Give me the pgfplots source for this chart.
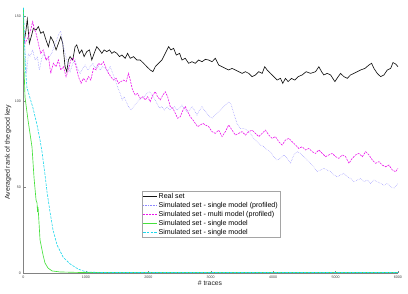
\documentclass[border=0pt]{standalone}
\usepackage{pgfplots}
\pgfplotsset{compat=1.18}
\usepackage{fontspec}
\setmainfont{Liberation Sans}

\definecolor{realset}{RGB}{20,20,20}
\definecolor{singleprof}{RGB}{140,135,255}
\definecolor{multiprof}{RGB}{235,20,235}
\definecolor{singlegreen}{RGB}{70,225,60}
\definecolor{singlecyan}{RGB}{30,215,235}
\definecolor{axisgray}{RGB}{130,130,130}
\definecolor{legframe}{RGB}{165,165,165}

\begin{document}
\begin{tikzpicture}
\path[use as bounding box] (-23.5pt,-21pt) rectangle (384.5pt,273pt);
\begin{axis}[
  scale only axis,
  width=374.5pt, height=257pt,
  anchor=origin, at={(0pt,0pt)},
  xmin=0, xmax=6000, ymin=0, ymax=150,
  axis x line=bottom, axis y line=left,
  axis line style={-, axisgray, line width=0.5pt},
  xtick={0,1000,2000,3000,4000,5000,6000},
  ytick={0,50,100,150},
  scaled x ticks=false,
  tick align=inside,
  major tick length=2.2pt,
  tick style={axisgray, line width=0.4pt},
  /pgf/number format/assume math mode=true,
  /pgf/number format/1000 sep={},
  tick label style={font=\fontsize{3.6}{4}\selectfont, text=black!75},
  xticklabel style={yshift=1pt},
  yticklabel style={xshift=1pt},
  xlabel={\# traces},
  ylabel={Averaged rank of the good key},
  every axis x label/.style={at={(axis description cs:0.498,-0.039)}, anchor=center, font=\fontsize{6.8}{7}\selectfont, text=black!85},
  every axis y label/.style={at={(axis description cs:-0.041,0.47)}, rotate=90, anchor=center, font=\fontsize{7}{8}\selectfont, text=black!85},
  clip=false,
  legend style={at={(axis description cs:0.316,0.3191)}, anchor=north west,
    draw=legframe, line width=0.4pt, fill=white,
    font=\fontsize{7.1}{8}\selectfont,
    inner xsep=0.8pt, inner ysep=0.6pt, row sep=0.2pt,
    nodes={text height=5.4pt, text depth=1.6pt, inner ysep=0.9pt, inner xsep=1.2pt}},
  legend cell align=left,
  legend image code/.code={\draw[line width=0.6pt, #1] (0pt,0pt) -- (14pt,0pt);},
]

% Real set
\addplot[color=realset, line width=0.65pt] coordinates {
(8,134.0) (40,141.8) (61,148.1) (94,134.0) (131,138.9) (158,142.8) (201,141.8)
(238,143.8) (276,139.9) (318,140.9) (361,136.0) (399,132.1) (436,137.9) (479,135.0)
(522,130.2) (559,134.0) (597,137.9) (629,134.0) (666,120.4) (693,117.5) (720,124.3)
(746,126.3) (789,124.3) (827,132.1) (853,133.1) (896,128.2) (934,130.2) (971,126.3)
(1014,129.2) (1057,130.2) (1094,124.3) (1132,128.2) (1174,132.1) (1217,130.2)
(1255,128.2) (1292,130.2) (1335,129.2) (1378,130.2) (1415,128.2) (1453,129.2)
(1496,128.2) (1538,126.3) (1576,127.2) (1629,125.3) (1667,128.2) (1710,125.3)
(1763,126.3) (1817,124.3) (1870,124.3) (1924,122.4) (1977,120.4) (2030,118.5)
(2073,117.5) (2111,120.4) (2164,122.4) (2218,124.3) (2271,128.2) (2325,132.1)
(2362,130.2) (2405,131.1) (2448,127.2) (2501,128.2) (2539,124.3) (2592,125.3)
(2646,122.4) (2699,123.3) (2752,122.4) (2806,124.3) (2860,123.3) (2913,124.7)
(2967,124.3) (3020,123.3) (3074,125.3) (3127,121.4) (3181,120.4) (3234,119.4)
(3288,118.5) (3341,119.4) (3395,118.5) (3448,117.5) (3502,116.5) (3555,117.5)
(3609,116.5) (3662,114.6) (3716,115.6) (3769,117.5) (3823,116.5) (3865,120.4)
(3903,118.5) (3956,116.5) (4010,114.6) (4063,112.6) (4117,113.6) (4154,110.7)
(4197,113.6) (4240,111.7) (4293,113.6) (4347,112.6) (4400,114.6) (4465,115.6)
(4529,117.5) (4598,116.5) (4679,117.5) (4732,120.4) (4775,117.5) (4812,115.6)
(4866,116.5) (4920,115.6) (4989,111.7) (5042,114.6) (5080,116.5) (5133,114.6)
(5187,113.6) (5240,115.6) (5294,116.5) (5347,117.5) (5401,118.5) (5470,119.4)
(5535,121.4) (5577,122.4) (5615,119.4) (5668,116.5) (5722,114.6) (5775,115.6)
(5829,118.5) (5882,119.4) (5920,122.8) (5962,122.0) (6000,120.4)
};
\addlegendentry{Real set}

% Simulated set, single model (profiled)
\addplot[color=singleprof, line width=0.5pt, dash pattern=on 0.5pt off 1.1pt] coordinates {
(0,137.9) (24,130.2) (51,116.5) (78,128.2) (104,126.3) (147,130.2) (185,124.3)
(222,126.3) (254,118.5) (292,125.3) (329,128.2) (372,124.3) (415,126.3) (452,128.2)
(490,132.1) (532,136.0) (570,139.9) (597,140.9) (629,134.0) (666,128.2) (704,122.4)
(746,117.5) (789,122.4) (827,124.3) (864,119.4) (907,116.5) (950,119.4) (987,121.4)
(1030,118.5) (1067,120.4) (1110,122.4) (1148,119.4) (1185,121.4) (1228,118.5)
(1271,120.4) (1308,119.4) (1346,117.5) (1388,120.4) (1431,116.5) (1469,112.6)
(1506,108.7) (1549,104.8) (1581,101.0) (1613,102.9) (1645,100.0) (1683,97.1)
(1720,95.1) (1763,97.1) (1806,99.0) (1849,101.0) (1891,101.9) (1934,102.9)
(1977,104.8) (2020,105.8) (2057,103.9) (2095,101.9) (2137,99.0) (2180,96.1)
(2218,97.1) (2255,95.1) (2298,97.1) (2341,95.1) (2378,96.1) (2416,97.1) (2459,95.1)
(2501,96.1) (2539,98.0) (2576,96.1) (2619,94.2) (2662,95.1) (2699,97.1) (2737,95.1)
(2780,92.2) (2822,95.1) (2860,97.1) (2897,95.1) (2940,93.2) (2983,91.2) (3020,90.3)
(3074,92.2) (3127,94.2) (3181,96.1) (3234,98.0) (3288,100.0) (3330,98.0) (3368,93.2)
(3421,87.3) (3475,84.4) (3528,84.4) (3582,83.4) (3635,81.5) (3689,78.6) (3742,76.6)
(3796,74.7) (3849,73.7) (3903,71.8) (3956,70.8) (4010,67.9) (4063,65.9) (4117,66.9)
(4170,68.9) (4224,66.9) (4277,64.0) (4331,68.9) (4384,70.8) (4438,69.8) (4491,67.9)
(4545,65.9) (4598,64.0) (4652,62.0) (4705,59.1) (4759,60.1) (4812,61.1) (4866,60.1)
(4920,59.1) (4973,57.2) (5026,56.2) (5080,57.2) (5133,58.2) (5187,56.2) (5240,55.2)
(5294,53.3) (5347,54.2) (5401,55.2) (5454,53.3) (5508,54.2) (5561,52.3) (5615,54.2)
(5668,53.3) (5722,52.3) (5775,51.3) (5829,52.3) (5882,50.4) (5936,49.4) (5989,51.9)
(6000,51.5)
};
\addlegendentry{Simulated set - single model (profiled)}

% Simulated set, multi model (profiled)
\addplot[color=multiprof, line width=0.6pt, dash pattern=on 2pt off 1pt] coordinates {
(8,139.9) (24,134.0) (78,137.9) (115,141.8) (147,146.7) (169,142.8) (201,139.9)
(238,134.0) (276,128.2) (318,130.2) (361,124.3) (399,126.3) (436,116.5) (479,122.4)
(522,120.4) (559,124.3) (597,118.5) (639,120.4) (682,114.6) (720,118.5) (757,124.3)
(800,125.3) (843,120.4) (880,114.6) (923,110.7) (960,113.6) (1003,111.7) (1041,114.6)
(1078,112.6) (1121,119.4) (1164,118.5) (1201,122.4) (1239,121.4) (1281,123.3)
(1324,119.4) (1362,116.5) (1399,114.6) (1442,112.6) (1485,113.6) (1522,110.7)
(1560,111.7) (1603,112.6) (1645,111.7) (1683,116.5) (1710,112.6) (1747,106.8)
(1790,103.9) (1827,104.8) (1870,101.9) (1913,102.9) (1950,101.0) (1988,102.9)
(2030,100.0) (2073,103.9) (2111,105.8) (2148,102.9) (2191,101.0) (2234,103.9)
(2271,105.8) (2309,102.9) (2351,97.1) (2394,96.1) (2432,93.2) (2469,90.3) (2512,91.2)
(2555,95.1) (2592,97.1) (2630,94.2) (2673,91.2) (2715,89.3) (2753,87.3) (2790,85.4)
(2833,86.4) (2876,87.3) (2913,86.4) (2967,85.4) (3020,82.5) (3074,81.5) (3127,83.4)
(3181,79.6) (3234,82.5) (3288,86.4) (3341,83.4) (3395,80.5) (3448,81.5) (3502,82.5)
(3555,80.5) (3609,82.5) (3662,83.4) (3716,81.5) (3769,79.6) (3823,81.5) (3876,83.4)
(3930,80.5) (3983,78.6) (4037,79.6) (4090,76.6) (4144,74.7) (4197,77.6) (4251,78.6)
(4304,76.6) (4358,74.7) (4411,72.7) (4465,73.7) (4518,71.8) (4572,72.7) (4625,70.8)
(4679,69.8) (4732,71.8) (4786,69.8) (4839,67.9) (4893,68.9) (4946,69.8) (5000,67.9)
(5053,66.9) (5107,68.9) (5160,67.9) (5214,64.0) (5267,66.9) (5321,68.9) (5374,69.8)
(5428,67.9) (5481,70.8) (5535,68.9) (5588,66.0) (5641,64.0) (5695,65.0) (5748,63.0)
(5802,62.0) (5855,63.0) (5909,60.1) (5962,59.1) (6000,61.1)
};
\addlegendentry{Simulated set - multi model (profiled)}

% Simulated set, single model
\addplot[color=singlegreen, line width=0.65pt] coordinates {
(0,154.7) (8,120.3) (24,102.7) (72,89.3) (136,73.6) (169,55.5) (201,42.6)
(217,40.9) (225,35.6) (233,38.5) (241,33.9) (265,19.3) (313,10.5) (345,5.8)
(393,2.9) (457,1.2) (586,0.6) (907,0.3) (2000,0.3) (4000,0.3) (6000,0.3)
};
\addlegendentry{Simulated set - single model}

% Simulated set, single model (second run)
\addplot[color=singlecyan, line width=0.6pt, dash pattern=on 2.5pt off 1.2pt] coordinates {
(0,154.7) (16,136.0) (32,118.5) (56,108.0) (104,102.2) (152,96.3) (217,86.4)
(265,77.6) (297,70.6) (345,57.2) (377,47.3) (425,35.6) (473,25.1) (538,16.3)
(634,9.3) (746,5.3) (875,2.3) (1003,0.6) (1228,0.3) (3000,0.3) (6000,0.3)
};
\addlegendentry{Simulated set - single model}

\end{axis}
\end{tikzpicture}
\end{document}
